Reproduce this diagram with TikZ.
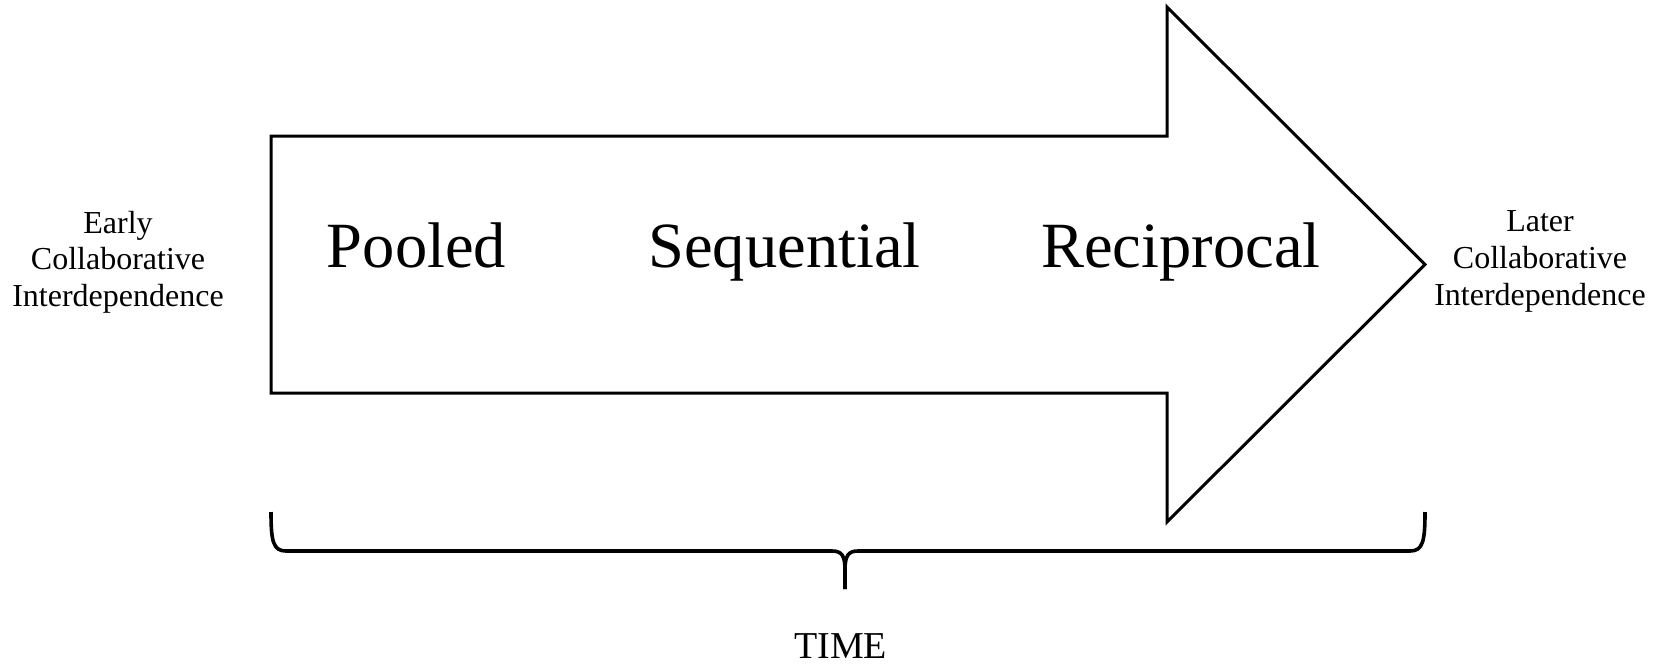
\documentclass[tikz,border=0pt]{standalone}
\usepackage{fontspec}
\setmainfont{Liberation Serif}
\begin{document}
\begin{tikzpicture}[x=1pt,y=-1pt,
  outline/.style={draw=black,line width=3pt,line join=miter},
  bracepath/.style={draw=black,line width=3.6pt,line cap=butt},
  sidelabel/.style={align=center,anchor=base,inner sep=0pt,
    font=\fontsize{32}{36.7}\selectfont},
  phase/.style={anchor=base,inner sep=0pt,font=\fontsize{64.5}{70}\selectfont},
  axislabel/.style={anchor=base,inner sep=0pt,font=\fontsize{38}{42}\selectfont}]
\useasboundingbox (0,0) rectangle (1658,667);

% the big block arrow
\draw[outline] (271,136) -- (1167,136) -- (1167,7) -- (1425,264.5)
  -- (1167,522) -- (1167,393) -- (271,393) -- cycle;

% stages along the arrow
\node[phase] (pooled) at (416.5,267) {Pooled};
\node[phase] (seq) at (784.6,267) {Sequential};
\node[phase] (recip) at (1181,267) {Reciprocal};

% start and end labels (base anchor sits on the last line)
\node[sidelabel] (early) at (118,306.5) {Early\\Collaborative\\Interdependence};
\node[sidelabel] (later) at (1540,305) {Later\\Collaborative\\Interdependence};

% brace spanning the arrow
\coordinate (bl) at (271,512);
\coordinate (br) at (1425,512);
\coordinate (bm) at (845,589);
\draw[bracepath] (bl) .. controls (271,541) and (273,551) .. (286,551)
  -- (832,551) .. controls (842,551) and (845,556) .. (845,570) -- (bm);
\draw[bracepath] (br) .. controls (1425,541) and (1423,551) .. (1410,551)
  -- (858,551) .. controls (848,551) and (845,556) .. (845,570) -- (bm);

\node[axislabel] (time) at (840.6,658) {TIME};
\end{tikzpicture}
\end{document}
